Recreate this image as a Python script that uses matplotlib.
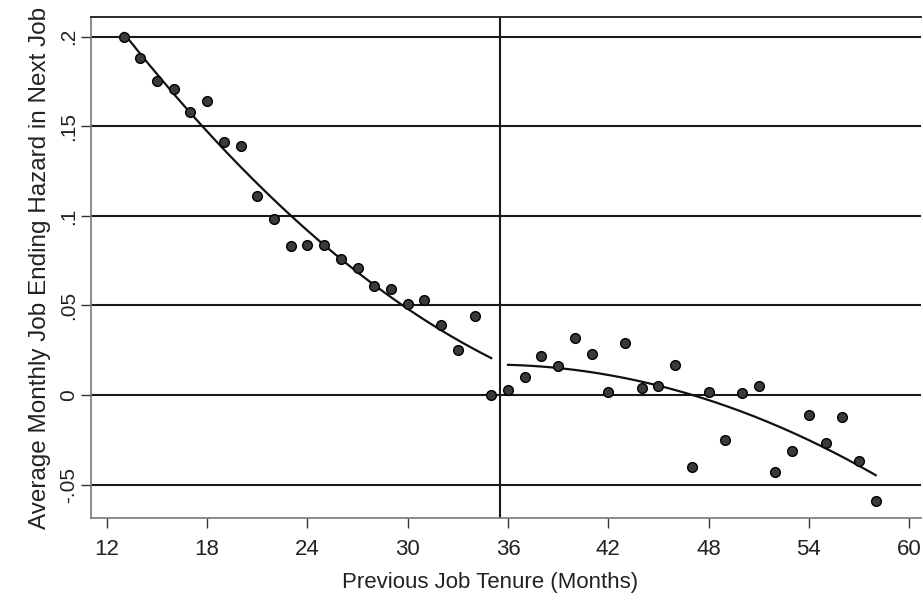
import numpy as np
import matplotlib
matplotlib.use("Agg")
import matplotlib.pyplot as plt

plt.rcParams['font.family'] = ['Liberation Sans', 'DejaVu Sans']

# Data
tenure_left = [13, 14, 15, 16, 17, 18, 19, 20, 21, 22, 23, 24, 25, 26, 27, 28,
               29, 30, 31, 32, 33, 34, 35]
hazard_left = [0.200, 0.188, 0.175, 0.171, 0.158, 0.164, 0.141, 0.139, 0.111,
               0.098, 0.083, 0.084, 0.084, 0.076, 0.071, 0.061, 0.059, 0.051,
               0.053, 0.039, 0.025, 0.044, 0.000]
tenure_right = [36, 37, 38, 39, 40, 41, 42, 43, 44, 45, 46, 47, 48, 49, 50, 51,
                52, 53, 54, 55, 56, 57, 58]
hazard_right = [0.003, 0.010, 0.022, 0.016, 0.032, 0.023, 0.002, 0.029, 0.004,
                0.005, 0.017, -0.040, 0.002, -0.025, 0.001, 0.005, -0.043,
                -0.031, -0.011, -0.027, -0.012, -0.037, -0.059]
cutoff = 35.5
xticks = [12, 18, 24, 30, 36, 42, 48, 54, 60]
yticks = [-0.05, 0, 0.05, 0.1, 0.15, 0.2]
yticklabels = ['-.05', '0', '.05', '.1', '.15', '.2']

fig = plt.figure(figsize=(9.23, 6.02), dpi=100)
ax = fig.add_axes([0.0986, 0.1395, 0.899, 0.8323])

# horizontal reference lines
for yv in yticks:
    ax.axhline(yv, color='#1a1a1a', lw=1.5, zorder=1)
ax.axvline(cutoff, color='#1a1a1a', lw=1.5, zorder=1)

# quadratic fits on each side
for xs, ys in [(tenure_left, hazard_left), (tenure_right, hazard_right)]:
    xs = np.asarray(xs, float); ys = np.asarray(ys, float)
    c = np.polyfit(xs, ys, 2)
    xx = np.linspace(xs.min(), xs.max(), 200)
    ax.plot(xx, np.polyval(c, xx), color='#111111', lw=1.6, zorder=2)

ax.plot(tenure_left, hazard_left, 'o', ms=7, mfc='#3a3a3a', mec='#000000',
        mew=1.0, zorder=3)
ax.plot(tenure_right, hazard_right, 'o', ms=7, mfc='#3a3a3a', mec='#000000',
        mew=1.0, zorder=3)

ax.set_xlim(11.05, 60.7)
ax.set_ylim(-0.0686, 0.211)
ax.set_xticks(xticks)
ax.set_xticklabels([str(t) for t in xticks], fontsize=16)
ax.set_yticks(yticks)
ax.set_yticklabels(yticklabels, fontsize=15, rotation=90, va='center')
ax.tick_params(axis='both', direction='out', length=7, width=1.0,
               colors='#333333', labelcolor='#222222')
ax.tick_params(axis='x', pad=8)
ax.tick_params(axis='y', pad=2)

for s in ['left', 'bottom']:
    ax.spines[s].set_color('#777777')
    ax.spines[s].set_linewidth(1.2)
ax.spines['top'].set_color('#1a1a1a')
ax.spines['top'].set_linewidth(1.3)
ax.spines['right'].set_visible(False)

ax.set_xlabel('Previous Job Tenure (Months)', fontsize=16, color='#222222')
ax.xaxis.set_label_coords(0.481, -0.107)
ax.set_ylabel('Average Monthly Job Ending Hazard in Next Job', fontsize=17.5,
              color='#222222', labelpad=6)

fig.savefig('out.png', dpi=100, facecolor='white')
